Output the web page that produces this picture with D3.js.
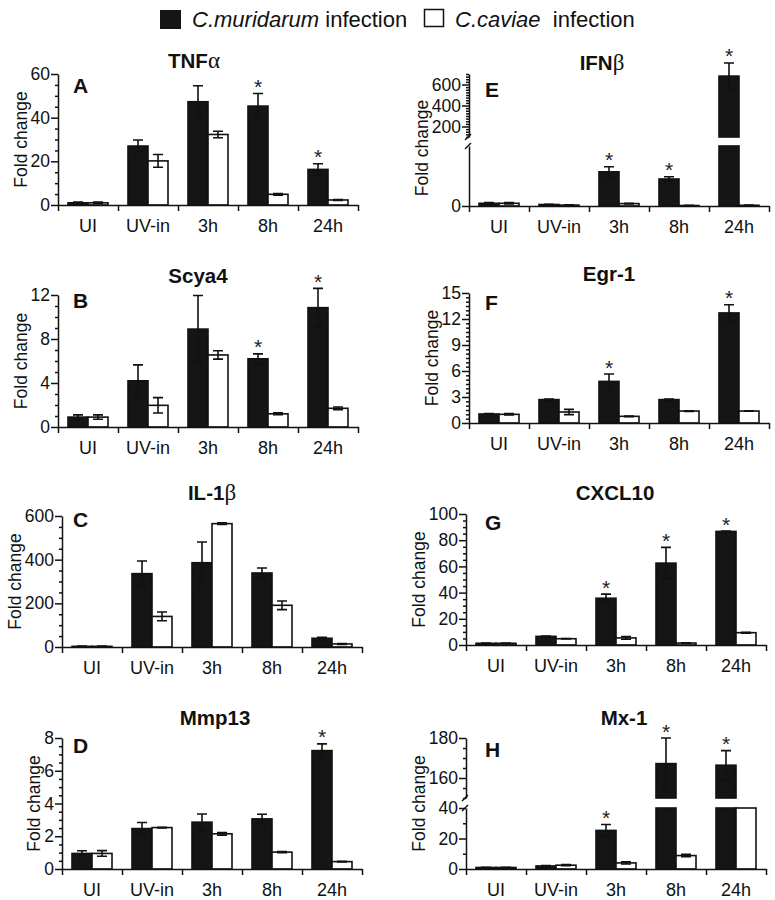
<!DOCTYPE html>
<html><head><meta charset="utf-8">
<script src="https://cdn.jsdelivr.net/npm/d3@7"></script>
<style>body{margin:0;background:#fff}svg{display:block}</style>
</head><body>
<script>
// ---------- DATA ----------
const categories = ["UI", "UV-in", "3h", "8h", "24h"];
const seriesKeys = ["muri", "cav"];

const tnfMuri = [1.0, 27.0, 47.3, 45.3, 16.3];
const tnfMuriErr = [0.3, 2.8, 7.3, 5.8, 2.6];
const tnfCav = [1.0, 20.2, 32.3, 4.9, 2.3];
const tnfCavErr = [0.3, 2.9, 1.5, 0.4, 0.2];
const tnfStars = [0, 0, 0, 1, 1];

const scyaMuri = [0.9, 4.2, 8.9, 6.2, 10.85];
const scyaMuriErr = [0.2, 1.45, 3.05, 0.45, 1.75];
const scyaCav = [0.9, 1.97, 6.55, 1.2, 1.7];
const scyaCavErr = [0.2, 0.7, 0.38, 0.08, 0.12];
const scyaStars = [0, 0, 0, 1, 1];

const il1Muri = [3, 336, 386, 339, 40];
const il1MuriErr = [1, 58, 95, 23, 5];
const il1Cav = [3, 140, 565, 191, 14];
const il1CavErr = [1, 20, 4, 20, 2];
const il1Stars = [0, 0, 0, 0, 0];

const mmpMuri = [0.95, 2.47, 2.86, 3.06, 7.23];
const mmpMuriErr = [0.16, 0.37, 0.5, 0.28, 0.41];
const mmpCav = [0.95, 2.53, 2.15, 1.03, 0.45];
const mmpCavErr = [0.17, 0.02, 0.08, 0.03, 0.02];
const mmpStars = [0, 0, 0, 0, 1];

const ifnMuri = [4.5, 2.5, 57, 45, 680];
const ifnMuriErr = [1.2, 0.5, 8.5, 3.8, 125];
const ifnCav = [4.5, 1.5, 4, 0.8, 1.2];
const ifnCavErr = [1.2, 0.3, 0.6, 0.2, 0.2];
const ifnStars = [0, 0, 1, 1, 1];

const egrMuri = [1.04, 2.7, 4.8, 2.7, 12.7];
const egrMuriErr = [0.06, 0.05, 0.85, 0.05, 0.95];
const egrCav = [1.0, 1.27, 0.77, 1.38, 1.38];
const egrCavErr = [0.08, 0.3, 0.03, 0.04, 0.03];
const egrStars = [0, 0, 1, 0, 1];

const cxMuri = [1.3, 6.6, 35.7, 62.5, 86.7];
const cxMuriErr = [0.2, 0.2, 3.1, 12, 0.3];
const cxCav = [1.3, 4.8, 5.4, 1.5, 9.4];
const cxCavErr = [0.2, 0.2, 1.0, 0.2, 0.3];
const cxStars = [0, 0, 1, 1, 1];

const mxMuri = [1, 2, 25.3, 167.2, 166.4];
const mxMuriErr = [0.1, 0.3, 3.9, 12.8, 7.3];
const mxCav = [1, 2.5, 4, 8.8, 60];
const mxCavErr = [0.1, 0.4, 0.7, 0.8, 0];
const mxStars = [0, 0, 1, 1, 1];

// axis segments (domains, tick labels, minor step)
const tnfAxis = [{domain: [0, 60], ticks: [0, 20, 40, 60], minor: 5}];
const scyaAxis = [{domain: [0, 12], ticks: [0, 4, 8, 12], minor: 1}];
const il1Axis = [{domain: [0, 600], ticks: [0, 200, 400, 600], minor: 50}];
const mmpAxis = [{domain: [0, 8], ticks: [0, 2, 4, 6, 8], minor: 0.5}];
const ifnAxis = [{domain: [0, 100], ticks: [0], minor: null},
                 {domain: [100, 700], ticks: [200, 400, 600], minor: 25}];
const egrAxis = [{domain: [0, 15], ticks: [0, 3, 6, 9, 12, 15], minor: 0.5}];
const cxAxis = [{domain: [0, 100], ticks: [0, 20, 40, 60, 80, 100], minor: 5}];
const mxAxis = [{domain: [0, 40], ticks: [0, 20, 40], minor: 10},
                {domain: [150, 180], ticks: [160, 180], minor: 5}];

// ---------- LAYOUT ----------
const FONT = "'Liberation Sans', Arial, Helvetica, sans-serif";
const panels = [
  {letter: "A", title: ["TNF", "α"], muri: tnfMuri, muriErr: tnfMuriErr, cav: tnfCav, cavErr: tnfCavErr, stars: tnfStars, axis: tnfAxis,
   x: [58, 358], ranges: [[205, 74]], tx: 194, ty: 68, lx: 73, ly: 93},
  {letter: "B", title: ["Scya4"], muri: scyaMuri, muriErr: scyaMuriErr, cav: scyaCav, cavErr: scyaCavErr, stars: scyaStars, axis: scyaAxis,
   x: [58, 358], ranges: [[427, 295]], tx: 198, ty: 283, lx: 73, ly: 308},
  {letter: "C", title: ["IL-1", "β"], muri: il1Muri, muriErr: il1MuriErr, cav: il1Cav, cavErr: il1CavErr, stars: il1Stars, axis: il1Axis,
   x: [62, 362], ranges: [[647, 516]], tx: 212, ty: 500, lx: 73, ly: 527},
  {letter: "D", title: ["Mmp13"], muri: mmpMuri, muriErr: mmpMuriErr, cav: mmpCav, cavErr: mmpCavErr, stars: mmpStars, axis: mmpAxis,
   x: [62, 362], ranges: [[869, 738]], tx: 215, ty: 725, lx: 73, ly: 753},
  {letter: "E", title: ["IFN", "β"], muri: ifnMuri, muriErr: ifnMuriErr, cav: ifnCav, cavErr: ifnCavErr, stars: ifnStars, axis: ifnAxis,
   x: [469, 769], ranges: [[206, 146], [137, 74]], tx: 602, ty: 70, lx: 485, ly: 97, labelShift: 8},
  {letter: "F", title: ["Egr-1"], muri: egrMuri, muriErr: egrMuriErr, cav: egrCav, cavErr: egrCavErr, stars: egrStars, axis: egrAxis,
   x: [469, 769], ranges: [[423, 293]], tx: 609, ty: 281, lx: 485, ly: 310},
  {letter: "G", title: ["CXCL10"], muri: cxMuri, muriErr: cxMuriErr, cav: cxCav, cavErr: cxCavErr, stars: cxStars, axis: cxAxis,
   x: [466, 766], ranges: [[645, 514]], tx: 615, ty: 500, lx: 485, ly: 530},
  {letter: "H", title: ["Mx-1"], muri: mxMuri, muriErr: mxMuriErr, cav: mxCav, cavErr: mxCavErr, stars: mxStars, axis: mxAxis,
   x: [466, 766], ranges: [[869, 808], [798, 738]], tx: 624, ty: 725, lx: 485, ly: 757}
];

const svg = d3.select("body").append("svg").attr("width", 775).attr("height", 900)
  .style("font-family", FONT);

// ---------- LEGEND ----------
const leg = svg.append("g");
leg.append("rect").attr("x", 160).attr("y", 10).attr("width", 21).attr("height", 19).attr("fill", "#151515");
const lt1 = leg.append("text").attr("x", 192).attr("y", 27).attr("font-size", 22).attr("fill", "#111");
lt1.append("tspan").attr("font-style", "italic").text("C.muridarum");
lt1.append("tspan").text(" infection");
leg.append("rect").attr("x", 424.5).attr("y", 9.5).attr("width", 19).attr("height", 17)
  .attr("fill", "#fff").attr("stroke", "#111").attr("stroke-width", 1.5);
const lt2 = leg.append("text").attr("x", 455).attr("y", 27).attr("font-size", 22).attr("fill", "#111");
lt2.append("tspan").attr("font-style", "italic").text("C.caviae");
lt2.append("tspan").text("  infection").attr("xml:space", "preserve");

// ---------- PANELS ----------
function drawPanel(p) {
  const g = svg.append("g");
  const [x0, x1] = p.x;
  const xBand = d3.scaleBand().domain(categories).range([x0, x1]).padding(0);
  const xSub = d3.scaleBand().domain(seriesKeys).range([0, xBand.bandwidth()])
    .paddingInner(0).paddingOuter(0.5);
  const segs = p.axis.map((s, i) => Object.assign({}, s,
    {scale: d3.scaleLinear().domain(s.domain).range(p.ranges[i])}));
  const yPos = v => {
    const s = segs.find(s => v <= s.domain[1]) || segs[segs.length - 1];
    return s.scale(v);
  };
  const baseY = segs[0].scale(0);

  const pieces = [], errs = [], stars = [];
  categories.forEach((c, i) => {
    seriesKeys.forEach(k => {
      const v = p[k][i], e = p[k + "Err"][i];
      const bx = xBand(c) + xSub(k);
      segs.forEach((s, si) => {
        const lo = s.domain[0], hi = s.domain[1];
        if (si === 0 || v > lo) {
          const top = Math.min(v, hi);
          pieces.push({k, x: bx, y: s.scale(top), h: s.scale(lo) - s.scale(top)});
        }
      });
      const cx = bx + xSub.bandwidth() / 2;
      if (e > 0) errs.push({cx, y1: yPos(v - e), y2: yPos(v + e)});
      if (k === "muri" && p.stars[i]) stars.push({cx, y: yPos(v + e)});
    });
  });

  g.selectAll("rect.bar").data(pieces).join("rect")
    .attr("x", d => d.x).attr("y", d => d.y)
    .attr("width", xSub.bandwidth()).attr("height", d => Math.max(0, d.h))
    .attr("fill", d => d.k === "muri" ? "#151515" : "#fff")
    .attr("stroke", "#111").attr("stroke-width", 1.6);

  const eg = g.append("g").attr("stroke", "#111").attr("stroke-width", 1.6).attr("fill", "none");
  eg.selectAll("path").data(errs).join("path")
    .attr("d", d => `M${d.cx},${d.y1}V${d.y2}M${d.cx - 5},${d.y2}H${d.cx + 5}M${d.cx - 5},${d.y1}H${d.cx + 5}`);

  g.selectAll("text.star").data(stars).join("text")
    .attr("x", d => d.cx).attr("y", d => d.y + 0.5)
    .attr("text-anchor", "middle").attr("font-size", 21).attr("fill", "#222").text("*");

  const yAxisG = g.append("g");
  segs.forEach(s => {
    if (s.minor) {
      const minors = d3.range(s.domain[0], s.domain[1] + 1e-9, s.minor)
        .filter(t => !s.ticks.some(m => Math.abs(m - t) < 1e-9));
      yAxisG.append("g").attr("transform", `translate(${x0},0)`)
        .call(d3.axisLeft(s.scale).tickValues(minors).tickSize(3).tickSizeOuter(0).tickFormat(""))
        .call(a => a.select(".domain").remove());
    }
    yAxisG.append("g").attr("transform", `translate(${x0},0)`)
      .call(d3.axisLeft(s.scale).tickValues(s.ticks).tickSize(7).tickSizeOuter(0).tickPadding(1)
        .tickFormat(d3.format("d")))
      .call(a => a.selectAll("text").attr("font-size", 17.5).attr("font-family", FONT).attr("fill", "#111"));
  });
  yAxisG.selectAll("path,line").attr("stroke", "#111").attr("stroke-width", 1.5);

  if (segs.length > 1) {
    const bm = g.append("g").attr("stroke", "#111").attr("stroke-width", 1.5);
    for (let i = 0; i < segs.length - 1; i++) {
      const yTop = segs[i].scale(segs[i].domain[1]);
      const yBot = segs[i + 1].scale(segs[i + 1].domain[0]);
      bm.append("line").attr("x1", x0 - 4).attr("y1", yTop + 3).attr("x2", x0 + 2).attr("y2", yTop - 3);
      bm.append("line").attr("x1", x0 - 4).attr("y1", yBot + 3).attr("x2", x0 + 2).attr("y2", yBot - 3);
    }
  }

  const xLin = d3.scaleLinear().domain([0, categories.length]).range([x0, x1]);
  const xg = g.append("g").attr("transform", `translate(0,${baseY})`)
    .call(d3.axisBottom(xLin).tickValues(d3.range(categories.length + 1)).tickSize(6).tickSizeOuter(0).tickFormat(""));
  xg.selectAll("path,line").attr("stroke", "#111").attr("stroke-width", 1.5);
  g.append("g").attr("transform", `translate(0,${baseY})`)
    .call(d3.axisBottom(xBand).tickSize(0).tickPadding(14))
    .call(a => a.select(".domain").remove())
    .call(a => a.selectAll("text").attr("font-size", 18).attr("font-family", FONT).attr("fill", "#111"));

  const bb = yAxisG.node().getBBox();
  const yTopAll = segs[segs.length - 1].scale.range()[1];
  const cy = (baseY + yTopAll) / 2 + (p.labelShift || 0);
  g.append("text").attr("transform", `translate(${bb.x - 10},${cy}) rotate(-90)`)
    .attr("text-anchor", "middle").attr("dy", "0.35em").attr("font-size", 17.5).attr("fill", "#111")
    .text("Fold change");

  const t = g.append("text").attr("x", p.tx).attr("y", p.ty).attr("text-anchor", "middle")
    .attr("font-size", 20.5).attr("font-weight", "bold").attr("fill", "#111");
  t.append("tspan").text(p.title[0]);
  if (p.title[1]) t.append("tspan").attr("font-weight", "normal")
    .attr("font-family", "'Liberation Serif', 'DejaVu Serif', serif").attr("font-size", 23).text(p.title[1]);

  g.append("text").attr("x", p.lx).attr("y", p.ly).attr("font-size", 21).attr("font-weight", "bold")
    .attr("fill", "#111").text(p.letter);
}

panels.forEach(drawPanel);
</script>
</body></html>
